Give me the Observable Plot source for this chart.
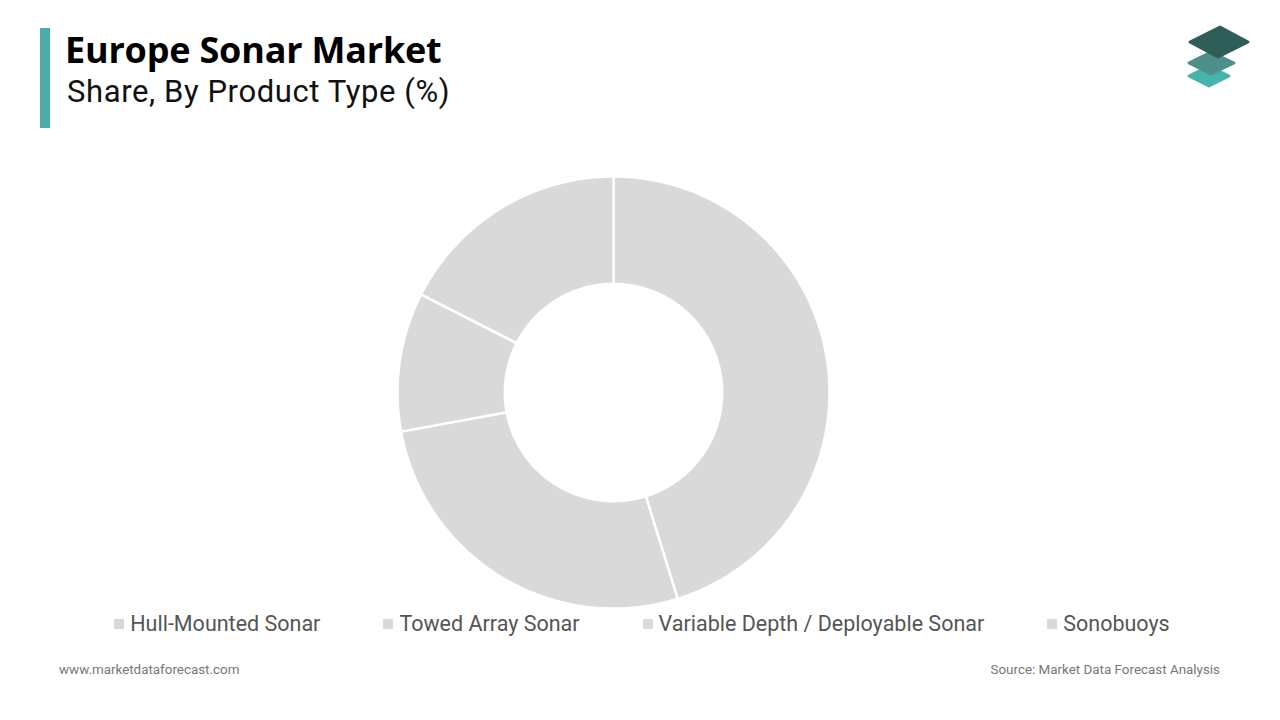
<!DOCTYPE html>
<html>
<head>
<meta charset="utf-8">
<script src="https://cdn.jsdelivr.net/npm/d3@7"></script>
<script src="https://cdn.jsdelivr.net/npm/@observablehq/plot@0.6"></script>
<style>
  html, body { margin: 0; padding: 0; background: #fff; }
  #page { position: relative; width: 1280px; height: 720px; overflow: hidden; font-family: Roboto, "Noto Sans", sans-serif; }
  #bar { position: absolute; left: 40px; top: 28px; width: 10px; height: 100px; background: #4aacab; }
  #title { position: absolute; left: 65px; top: 26px; font-family: "Open Sans", sans-serif; font-weight: 700; font-size: 36px; color: #000; line-height: 48px; letter-spacing: -0.2px; }
  #subtitle { position: absolute; left: 67px; top: 71px; font-family: Roboto, sans-serif; font-size: 31px; letter-spacing: 0.6px; color: #111; line-height: 42px; }
  #chart { position: absolute; left: 0; top: 140px; }
  #legend { position: absolute; left: 0; width: 1280px; top: 611px; display: flex; justify-content: center; gap: 63px; font-size: 21.5px; color: #555; padding-left: 4px; box-sizing: border-box; }
  .item { display: flex; align-items: center; white-space: nowrap; }
  .sw { width: 10px; height: 10px; background: #d9d9d9; margin-right: 6px; }
  #foot-l { position: absolute; left: 59px; top: 662px; font-size: 13.4px; color: #777; }
  #foot-r { position: absolute; right: 60px; top: 662px; font-size: 13.4px; color: #777; }
  #logo { position: absolute; left: 1184px; top: 22px; }
</style>
</head>
<body>
<div id="page">
  <div id="bar"></div>
  <div id="title">Europe Sonar Market</div>
  <div id="subtitle">Share, By Product Type (%)</div>
  <svg id="logo" width="70" height="72" viewBox="0 0 70 72">
    <path d="M5 54 L25 44 L45 54 L25 64 Z" fill="#46b3ad" stroke="#46b3ad" stroke-width="3" stroke-linejoin="round"/>
    <path d="M5 41 L27 30 L50 41 L27 52 Z" fill="#4f8f89" stroke="#4f8f89" stroke-width="3" stroke-linejoin="round"/>
    <path d="M6 20 L36 5 L64 20 L34 35 Z" fill="#2e5e57" stroke="#2e5e57" stroke-width="3" stroke-linejoin="round"/>
  </svg>
  <div id="chart"></div>
  <div id="legend"></div>
  <div id="foot-l">www.marketdataforecast.com</div>
  <div id="foot-r">Source: Market Data Forecast Analysis</div>
</div>
<script>
const categories = ["Hull-Mounted Sonar", "Towed Array Sonar", "Variable Depth / Deployable Sonar", "Sonobuoys"];
const shares = [45.2, 26.9, 10.4, 17.5];
const sliceColor = "#d9d9d9";

const innerRatio = 0.503;
const total = d3.sum(shares);
const rows = [];
let acc = 0;
categories.forEach((cat, i) => {
  const a0 = acc / total * 2 * Math.PI;
  acc += shares[i];
  const a1 = acc / total * 2 * Math.PI;
  const n = Math.max(8, Math.ceil((a1 - a0) / 0.01));
  const pts = [];
  for (let k = 0; k <= n; k++) {
    const a = a0 + (a1 - a0) * k / n;
    pts.push({cat, x: Math.sin(a), y: Math.cos(a)});
  }
  for (let k = n; k >= 0; k--) {
    const a = a0 + (a1 - a0) * k / n;
    pts.push({cat, x: innerRatio * Math.sin(a), y: innerRatio * Math.cos(a)});
  }
  pts.push({cat, x: Math.sin(a0), y: Math.cos(a0)});
  rows.push(...pts);
});

const chart = Plot.plot({
  width: 1280,
  height: 500,
  x: {domain: [-1, 1], range: [397, 829], axis: null},
  y: {domain: [-1, 1], range: [468, 36], axis: null},
  color: {domain: categories, range: categories.map(() => sliceColor)},
  marks: [
    Plot.line(rows, {x: "x", y: "y", z: "cat", fill: "cat", stroke: "white", strokeWidth: 2.5, curve: "linear", strokeLinejoin: "miter"})
  ]
});
document.getElementById("chart").appendChild(chart);

const legend = document.getElementById("legend");
categories.forEach(c => {
  const it = document.createElement("div");
  it.className = "item";
  it.innerHTML = `<span class="sw"></span><span>${c}</span>`;
  legend.appendChild(it);
});
</script>
</body>
</html>
